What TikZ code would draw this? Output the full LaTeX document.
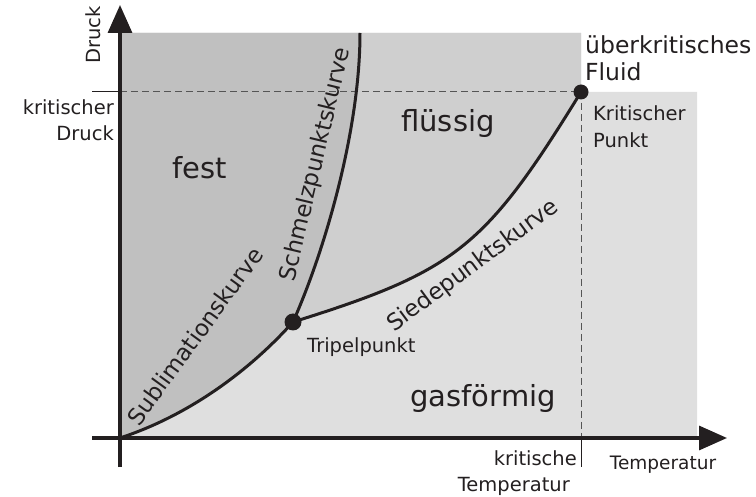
\documentclass[tikz,border=0pt]{standalone}
\usepackage{fontspec}
\setmainfont{DejaVu Sans}
\usetikzlibrary{arrows.meta}
\definecolor{festc}{RGB}{192,192,192}
\definecolor{fluessigc}{RGB}{207,207,207}
\definecolor{gasc}{RGB}{223,223,223}
\definecolor{ink}{RGB}{35,31,32}
\definecolor{dashc}{RGB}{85,85,85}
\newcommand\bigfont{\fontsize{29}{34}\selectfont}
\newcommand\midfont{\fontsize{23.5}{27}\selectfont}
\newcommand\smallfont{\fontsize{19.5}{26.5}\selectfont}
\newcommand\axfont{\fontsize{18.5}{27}\selectfont}
\newcommand\curvefont{\fontsize{23}{27}\selectfont}
\begin{document}
\begin{tikzpicture}[x=1pt,y=-1pt,
  curve/.style={draw=ink,line width=3pt},
  axis/.style={draw=ink,line width=3.3pt,-{Triangle[length=28pt,width=24pt]}},
  guide/.style={draw=dashc,line width=1pt,dash pattern=on 7pt off 4pt},
  tick/.style={draw=ink,line width=1pt},
  lbl/.style={text=ink,inner sep=0pt},
  curvelbl/.style={text=ink,inner sep=0pt,anchor=base,font=\curvefont}]
\useasboundingbox (0,0) rectangle (756,497);
% key points
\coordinate (O) at (120,438);
\coordinate (T) at (293,322);
\coordinate (K) at (581,92);
\coordinate (Mtop) at (360,33);
\coordinate (TL) at (120,33);
\coordinate (LTR) at (581,33);
\coordinate (GTR) at (697,92);
\coordinate (GBR) at (697,438);
\coordinate (Kx) at (581,438);
\coordinate (Kxt) at (581,467);
\coordinate (Py) at (120,92);
\coordinate (Pyt) at (92,92);
\coordinate (ybot) at (120,467);
\coordinate (ytop) at (120,5);
\coordinate (xstart) at (92,438);
\coordinate (xend) at (727,438);
% regions
\fill[gasc] (TL) -- (LTR) -- (K) -- (GTR) -- (GBR) -- (O) -- cycle;
\fill[fluessigc] (O) .. controls (190,415) and (250,370) .. (T)
   .. controls (456,271) and (485,248) .. (K) -- (LTR) -- (TL) -- cycle;
\fill[festc] (O) .. controls (190,415) and (250,370) .. (T)
   .. controls (325,250) and (360,130) .. (Mtop) -- (TL) -- cycle;
% guide lines
\draw[guide] (Py) -- (K);
\draw[guide] (K) -- (Kx);
\draw[tick] (Pyt) -- (Py);
\draw[tick] (Kx) -- (Kxt);
% curves
\draw[curve] (O) .. controls (190,415) and (250,370) .. (T);
\draw[curve] (T) .. controls (325,250) and (360,130) .. (Mtop);
\draw[curve] (T) .. controls (456,271) and (485,248) .. (K);
% axes
\draw[axis] (ybot) -- (ytop);
\draw[axis] (xstart) -- (xend);
% points
\fill[ink] (T) circle (8.5pt);
\fill[ink] (K) circle (7.5pt);
% labels
\node[lbl,rotate=90,font=\smallfont] (druck) at (93,35) {Druck};
\node[lbl,align=right,anchor=east,font=\smallfont] (kdruck) at (114,120) {kritischer\\Druck};
\node[lbl,font=\bigfont] (fest) at (200,168) {fest};
\node[lbl,font=\bigfont] (fl) at (448,124) {flüssig};
\node[lbl,font=\bigfont] (gas) at (483,398) {gasförmig};
\node[lbl,anchor=west,font=\smallfont] (tp) at (307,347) {Tripelpunkt};
\node[lbl,align=left,anchor=west,font=\smallfont] (kp) at (593,126.5) {Kritischer\\Punkt};
\node[lbl,align=left,anchor=west,font=\midfont] (uf) at (585,58.5) {überkritisches\\Fluid};
\node[lbl,align=right,anchor=east,font=\smallfont] (kt) at (577,473) {kritische\\Temperatur\kern7pt};
\node[lbl,font=\axfont] (temp) at (663,465) {Temperatur};
% curve labels
\node[curvelbl,rotate=54] (sub) at (202,341) {Sublimationskurve};
\node[curvelbl,rotate=76.5] (schm) at (322,166) {Schmelzpunktskurve};
\node[curvelbl,rotate=36.5] (sied) at (477,271) {Siedepunktskurve};
\end{tikzpicture}
\end{document}
